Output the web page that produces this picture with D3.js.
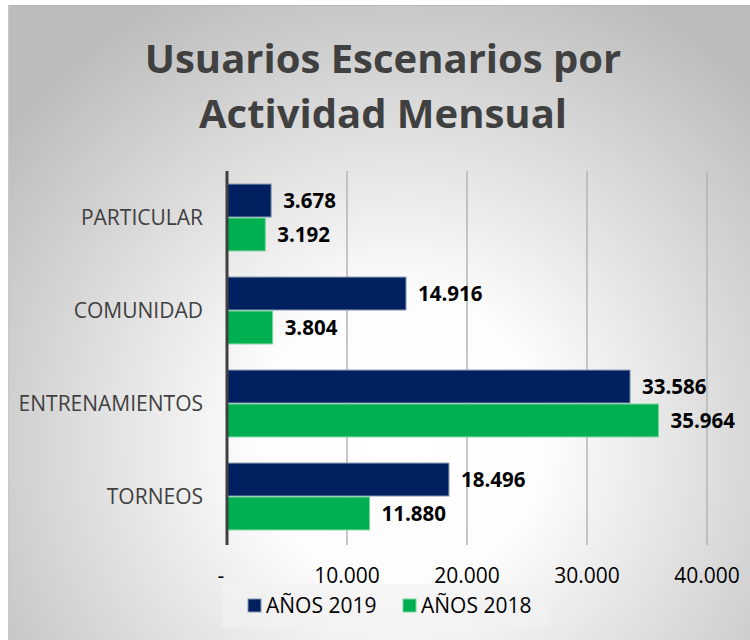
<!DOCTYPE html>
<html>
<head>
<meta charset="utf-8">
<script src="https://cdn.jsdelivr.net/npm/d3@7"></script>
<style>
  body { margin: 0; background: #fff; }
  text { font-family: "Open Sans", sans-serif; }
</style>
</head>
<body>
<div id="chart"></div>
<script>
const categories = ["PARTICULAR", "COMUNIDAD", "ENTRENAMIENTOS", "TORNEOS"];
const seriesNames = ["AÑOS 2019", "AÑOS 2018"];
const values2019 = [3678, 14916, 33586, 18496];
const values2018 = [3192, 3804, 35964, 11880];
const xTicks = [0, 10000, 20000, 30000, 40000];
const titleLines = ["Usuarios Escenarios por", "Actividad Mensual"];

const width = 750, height = 640;
const margin = { top: 171, right: 43, bottom: 97, left: 227 };

const colors = { "AÑOS 2019": "#002060", "AÑOS 2018": "#00b050" };
const strokes = { "AÑOS 2019": "#8497b0", "AÑOS 2018": "#79d69e" };

const locale = d3.formatLocale({ decimal: ",", thousands: ".", grouping: [3], currency: ["", ""] });
const fmt = locale.format(",d");

const data = categories.map((c, i) => ({
  category: c,
  values: [
    { series: seriesNames[0], value: values2019[i] },
    { series: seriesNames[1], value: values2018[i] },
  ],
}));

const svg = d3.select("#chart").append("svg")
  .attr("width", width)
  .attr("height", height);

// background
const defs = svg.append("defs");
const grad = defs.append("radialGradient")
  .attr("id", "bg")
  .attr("gradientUnits", "userSpaceOnUse")
  .attr("cx", 400).attr("cy", 440).attr("r", 500);
grad.append("stop").attr("offset", "0%").attr("stop-color", "#ffffff");
grad.append("stop").attr("offset", "30%").attr("stop-color", "#fcfcfc");
grad.append("stop").attr("offset", "100%").attr("stop-color", "#bcbcbc");

svg.append("rect")
  .attr("x", 8).attr("y", 5)
  .attr("width", width - 8).attr("height", height - 5)
  .attr("fill", "url(#bg)");
svg.append("line")
  .attr("x1", 8).attr("x2", width)
  .attr("y1", 5.5).attr("y2", 5.5)
  .attr("stroke", "#b8b8b8");
svg.append("line")
  .attr("x1", 8.5).attr("x2", 8.5)
  .attr("y1", 5).attr("y2", height)
  .attr("stroke", "#c8c8c8");

// title
svg.append("text")
  .attr("text-anchor", "middle")
  .style("font-size", "40px")
  .style("font-weight", "700")
  .style("fill", "#404040")
  .selectAll("tspan")
  .data(titleLines)
  .join("tspan")
  .attr("x", 383)
  .attr("y", (d, i) => 73 + i * 55)
  .text(d => d);

const x = d3.scaleLinear()
  .domain([0, 40000])
  .range([margin.left, width - margin.right]);

const y = d3.scaleBand()
  .domain(categories)
  .range([margin.top, height - margin.bottom])
  .paddingInner(0.27)
  .paddingOuter(0.135);

const ySub = d3.scaleBand()
  .domain(seriesNames)
  .range([0, y.bandwidth()]);

// gridlines
svg.append("g")
  .selectAll("line")
  .data(xTicks.slice(1))
  .join("line")
  .attr("x1", d => x(d)).attr("x2", d => x(d))
  .attr("y1", margin.top).attr("y2", height - margin.bottom + 2)
  .attr("stroke", "#b4b4b4")
  .attr("stroke-width", 1.5);

// bars
const groups = svg.append("g")
  .selectAll("g")
  .data(data)
  .join("g")
  .attr("transform", d => `translate(0,${y(d.category)})`);

groups.selectAll("rect")
  .data(d => d.values)
  .join("rect")
  .attr("x", x(0))
  .attr("y", d => ySub(d.series) + 0.5)
  .attr("width", d => x(d.value) - x(0))
  .attr("height", ySub.bandwidth() - 1)
  .attr("fill", d => colors[d.series])
  .attr("stroke", d => strokes[d.series])
  .attr("stroke-width", 1);

groups.selectAll("text")
  .data(d => d.values)
  .join("text")
  .attr("x", d => x(d.value) + 12)
  .attr("y", d => ySub(d.series) + ySub.bandwidth() / 2)
  .attr("dy", "0.36em")
  .style("font-size", "20.5px")
  .style("font-weight", "700")
  .style("fill", "#000")
  .text(d => fmt(d.value));

// y axis line
svg.append("line")
  .attr("x1", x(0)).attr("x2", x(0))
  .attr("y1", margin.top).attr("y2", height - margin.bottom + 2)
  .attr("stroke", "#404040")
  .attr("stroke-width", 3);

// category labels
svg.append("g")
  .selectAll("text")
  .data(categories)
  .join("text")
  .attr("x", x(0) - 24)
  .attr("y", d => y(d) + y.bandwidth() / 2)
  .attr("dy", "0.36em")
  .attr("text-anchor", "end")
  .style("font-size", "21px")
  .style("fill", "#404040")
  .text(d => d);

// x tick labels
svg.append("g")
  .selectAll("text")
  .data(xTicks)
  .join("text")
  .attr("x", d => d === 0 ? x(d) - 6 : x(d))
  .attr("y", 583)
  .attr("text-anchor", "middle")
  .style("font-size", "21px")
  .style("fill", "#000")
  .text(d => d === 0 ? "-" : fmt(d));

// legend
const legend = svg.append("g").attr("transform", "translate(222,584)");
legend.append("rect")
  .attr("width", 328).attr("height", 44)
  .attr("fill", "#f2f2f2")
  .attr("opacity", 0.6);

const legendX = [26, 181];
const items = legend.selectAll(".item")
  .data(seriesNames)
  .join("g")
  .attr("class", "item")
  .attr("transform", (d, i) => `translate(${legendX[i]},15)`);
items.append("rect")
  .attr("width", 13).attr("height", 13)
  .attr("fill", d => colors[d])
  .attr("stroke", d => strokes[d]);
items.append("text")
  .attr("x", 18).attr("y", 13.5)
  .style("font-size", "21px")
  .style("fill", "#000")
  .text(d => d);
</script>
</body>
</html>
